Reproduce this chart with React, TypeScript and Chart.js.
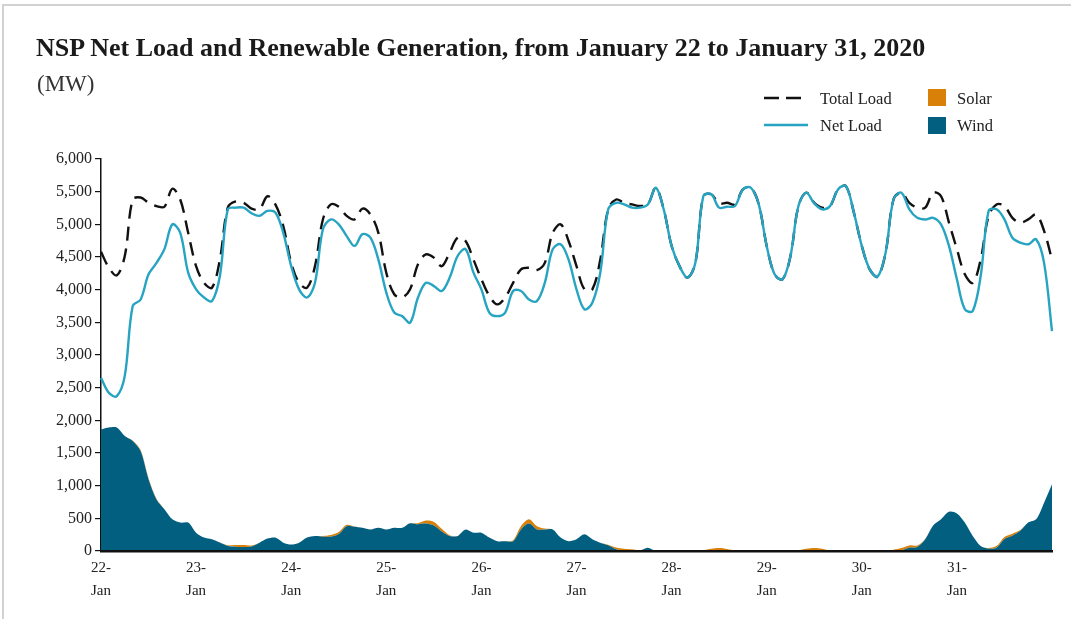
import React, { useEffect, useRef } from 'react';
import { Chart, registerables } from 'chart.js';

Chart.register(...registerables);

// ---- Data (2-hour steps, 22-Jan 00:00 to 1-Feb 00:00) ----
const dayTicks = ['22', '23', '24', '25', '26', '27', '28', '29', '30', '31'];
const monthTick = 'Jan';
const stepsPerDay = 12;

const totalLoad = [
  4580, 4335, 4220, 4515, 5380, 5410, 5330, 5280, 5270, 5545, 5380, 4870,
  4360, 4105, 4030, 4460, 5255, 5350, 5330, 5240, 5230, 5430, 5305, 4975,
  4410, 4105, 4030, 4360, 5075, 5305, 5270, 5130, 5075, 5240, 5150, 4870,
  4260, 3930, 3880, 4005, 4390, 4540, 4490, 4360, 4570, 4795, 4745, 4460,
  4160, 3905, 3775, 3880, 4105, 4310, 4335, 4300, 4410, 4870, 5000, 4745,
  4360, 4005, 4005, 4460, 5230, 5380, 5330, 5305, 5280, 5305, 5560, 5230,
  4670, 4360, 4185, 4410, 5430, 5460, 5320, 5330, 5305, 5535, 5560, 5305,
  4670, 4235, 4160, 4515, 5280, 5485, 5330, 5255, 5280, 5535, 5585, 5180,
  4670, 4310, 4200, 4565, 5380, 5485, 5330, 5255, 5255, 5485, 5430, 5025,
  4620, 4235, 4105, 4460, 5130, 5305, 5280, 5100, 5025, 5075, 5150, 4900,
  4460,
];

const netLoad = [
  2650, 2420, 2370, 2680, 3750, 3850, 4235, 4410, 4620, 5000, 4870, 4260,
  4005, 3880, 3825, 4210, 5230, 5255, 5255, 5170, 5130, 5205, 5180, 4870,
  4360, 4005, 3880, 4105, 4925, 5075, 5000, 4820, 4670, 4850, 4795, 4460,
  3955, 3650, 3595, 3495, 3880, 4105, 4055, 3980, 4185, 4515, 4620, 4260,
  4005, 3650, 3595, 3650, 3980, 3980, 3850, 3825, 4105, 4620, 4695, 4460,
  4005, 3700, 3800, 4260, 5230, 5330, 5305, 5255, 5255, 5305, 5560, 5230,
  4670, 4360, 4185, 4410, 5430, 5460, 5255, 5270, 5280, 5535, 5560, 5305,
  4670, 4235, 4160, 4515, 5280, 5485, 5320, 5230, 5280, 5535, 5585, 5180,
  4670, 4310, 4200, 4565, 5380, 5485, 5230, 5100, 5075, 5100, 5000, 4670,
  4160, 3700, 3675, 4210, 5205, 5230, 5075, 4795, 4720, 4695, 4770, 4410,
  3365,
];

const wind = [
  1860, 1890, 1890, 1760, 1685, 1530, 1100, 790, 640, 485, 435, 435,
  280, 205, 180, 130, 77, 66, 60, 70, 128, 190, 205, 128,
  100, 128, 205, 230, 220, 220, 260, 380, 370, 355, 330, 355,
  330, 355, 355, 425, 410, 420, 390, 300, 230, 230, 330, 280,
  280, 205, 150, 150, 150, 330, 420, 330, 330, 330, 205, 150,
  180, 255, 180, 128, 87, 25, 0, 0, 5, 50, 0, 0,
  0, 0, 0, 0, 0, 0, 0, 0, 0, 0, 0, 0,
  0, 0, 0, 0, 0, 0, 0, 0, 0, 0, 0, 0,
  0, 0, 0, 0, 5, 10, 50, 60, 180, 390, 485, 600,
  575, 435, 230, 77, 36, 50, 185, 235, 310, 435, 485, 740,
  1020,
];

const solar = [
  0, 0, 0, 0, 5, 15, 15, 10, 0, 0, 0, 0,
  0, 0, 0, 0, 10, 25, 30, 15, 0, 0, 0, 0,
  0, 0, 0, 0, 10, 25, 30, 20, 5, 0, 0, 0,
  0, 0, 0, 0, 15, 45, 55, 40, 10, 0, 0, 0,
  0, 0, 0, 0, 15, 50, 65, 50, 15, 0, 0, 0,
  0, 0, 0, 0, 10, 30, 35, 25, 5, 0, 0, 0,
  0, 0, 0, 0, 10, 35, 45, 30, 5, 0, 0, 0,
  0, 0, 0, 0, 10, 35, 45, 35, 5, 0, 0, 0,
  0, 0, 0, 0, 15, 35, 35, 25, 5, 0, 0, 0,
  0, 0, 0, 0, 10, 25, 30, 30, 10, 0, 0, 0,
  0,
];

const categories: string[] = [];
for (let d = 0; d < dayTicks.length; d++) {
  for (let s = 0; s < stepsPerDay; s++) {
    categories.push(`${dayTicks[d]}-${monthTick} ${s * 2}:00`);
  }
}
categories.push('1-Feb 0:00');

const COLORS = {
  total: '#111111',
  net: '#27a4c2',
  wind: '#035f80',
  solar: '#d98008',
  axis: '#111111',
  text: '#222222',
};

const FONT = '"Liberation Serif", "DejaVu Serif", serif';

export default function App() {
  const canvasRef = useRef<HTMLCanvasElement | null>(null);

  useEffect(() => {
    const canvas = canvasRef.current;
    if (!canvas) return;
    const chart = new Chart(canvas, {
      type: 'line',
      data: {
        labels: categories,
        datasets: [
          {
            label: 'Net Load',
            data: netLoad,
            borderColor: COLORS.net,
            borderWidth: 2.4,
            pointRadius: 0,
            tension: 0.35,
            fill: false,
            stack: 'net',
          },
          {
            label: 'Total Load',
            data: totalLoad,
            borderColor: COLORS.total,
            borderWidth: 2.4,
            borderDash: [14, 8],
            pointRadius: 0,
            tension: 0.35,
            fill: false,
            stack: 'total',
          },
          {
            label: 'Wind',
            data: wind,
            borderColor: COLORS.wind,
            backgroundColor: COLORS.wind,
            borderWidth: 0,
            pointRadius: 0,
            tension: 0.3,
            fill: 'origin',
            stack: 'gen',
          },
          {
            label: 'Solar',
            data: solar,
            borderColor: COLORS.solar,
            backgroundColor: COLORS.solar,
            borderWidth: 0,
            pointRadius: 0,
            tension: 0.3,
            fill: '-1',
            stack: 'gen',
          },
        ],
      },
      options: {
        responsive: false,
        animation: false,
        devicePixelRatio: 1,
        layout: { padding: { left: 0, right: 19, top: 159, bottom: 0 } },
        plugins: {
          legend: { display: false },
          tooltip: { enabled: false },
          title: { display: false },
        },
        scales: {
          x: {
            type: 'category',
            offset: false,
            afterFit: (scale: any) => {
              scale.height = 68;
            },
            grid: { display: false, drawTicks: false },
            border: { display: true, color: COLORS.axis, width: 2.5, z: 1 },
            ticks: {
              autoSkip: false,
              maxRotation: 0,
              minRotation: 0,
              padding: 5,
              color: COLORS.text,
              font: { family: FONT, size: 15, lineHeight: 1.55 },
              callback: (_v: any, i: number) => {
                if (i % stepsPerDay === 0 && i / stepsPerDay < dayTicks.length) {
                  return [dayTicks[i / stepsPerDay] + '-', monthTick];
                }
                return null;
              },
            },
          },
          y: {
            stacked: true,
            min: 0,
            max: 6000,
            afterFit: (scale: any) => {
              scale.width = 101;
            },
            grid: {
              display: true,
              drawOnChartArea: false,
              drawTicks: true,
              tickLength: 6,
              color: COLORS.axis,
              lineWidth: 1.2,
            },
            border: { display: true, color: COLORS.axis, width: 1.5 },
            ticks: {
              stepSize: 500,
              padding: 3,
              color: COLORS.text,
              font: { family: FONT, size: 16 },
              callback: (v: any) => Number(v).toLocaleString('en-US'),
            },
          },
        },
      },
    });
    return () => chart.destroy();
  }, []);

  const legendText: React.CSSProperties = {
    position: 'absolute',
    fontFamily: FONT,
    fontSize: 16.5,
    lineHeight: '17px',
    color: COLORS.text,
    whiteSpace: 'nowrap',
  };

  return (
    <div
      style={{
        position: 'absolute',
        left: 0,
        top: 0,
        width: 1071,
        height: 619,
        background: '#ffffff',
        overflow: 'hidden',
        fontFamily: FONT,
      }}
    >
      <div
        style={{
          position: 'absolute',
          left: 2,
          top: 4,
          right: -10,
          bottom: -10,
          borderTop: '2px solid #d2d2d2',
          borderLeft: '2px solid #d2d2d2',
        }}
      />
      <canvas
        ref={canvasRef}
        width={1071}
        height={619}
        style={{ position: 'absolute', left: 0, top: 0, width: 1071, height: 619 }}
      />
      <div
        style={{
          position: 'absolute',
          left: 36,
          top: 35,
          fontSize: 26,
          lineHeight: '26px',
          fontWeight: 'bold',
          color: '#1a1a1a',
          whiteSpace: 'nowrap',
        }}
      >
        NSP Net Load and Renewable Generation, from January 22 to January 31, 2020
      </div>
      <div
        style={{
          position: 'absolute',
          left: 37,
          top: 72,
          fontSize: 23,
          lineHeight: '23px',
          color: '#333333',
          whiteSpace: 'nowrap',
        }}
      >
        (MW)
      </div>

      <svg style={{ position: 'absolute', left: 764, top: 94 }} width={44} height={8}>
        <line x1={0} y1={4} x2={44} y2={4} stroke={COLORS.total} strokeWidth={2.6} strokeDasharray="15 7" />
      </svg>
      <div style={{ ...legendText, left: 820, top: 90 }}>Total Load</div>
      <div style={{ position: 'absolute', left: 928, top: 89, width: 18, height: 17, background: COLORS.solar }} />
      <div style={{ ...legendText, left: 957, top: 90 }}>Solar</div>

      <svg style={{ position: 'absolute', left: 764, top: 121 }} width={44} height={8}>
        <line x1={0} y1={4} x2={44} y2={4} stroke={COLORS.net} strokeWidth={2.6} />
      </svg>
      <div style={{ ...legendText, left: 820, top: 117 }}>Net Load</div>
      <div style={{ position: 'absolute', left: 928, top: 117, width: 18, height: 17, background: COLORS.wind }} />
      <div style={{ ...legendText, left: 957, top: 117 }}>Wind</div>
    </div>
  );
}
